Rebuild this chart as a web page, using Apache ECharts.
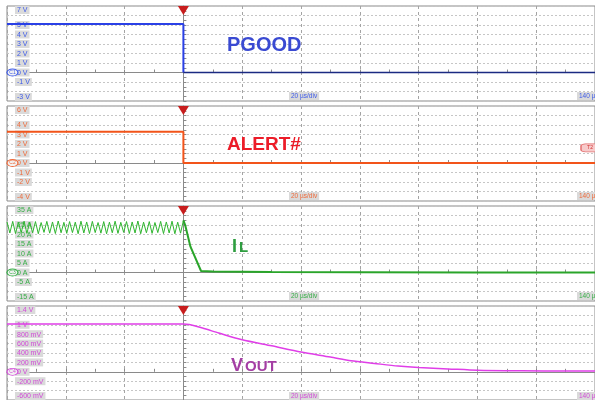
<!DOCTYPE html>
<html>
<head>
<meta charset="utf-8">
<script src="https://cdn.jsdelivr.net/npm/echarts@6/dist/echarts.min.js"></script>
<style>html,body{margin:0;padding:0;background:#fff}#main{width:595px;height:400px}</style>
</head>
<body>
<div id="main"></div>
<script>
// time axis in µs, trigger at 0, 20 µs/div
var pgoodTime = [-60, 0, 0, 140];
var pgoodVal = [5.1, 5.1, 0, 0];
var alertTime = [-60, 0, 0, 140];
var alertVal = [3.3, 3.3, 0, 0];
// inductor current (A): ripple up to trigger, then decay
var ilTime = [-60, -59.03, -58.06, -57.10, -56.13, -55.16, -54.19, -53.23, -52.26, -51.29,
  -50.32, -49.35, -48.39, -47.42, -46.45, -45.48, -44.52, -43.55, -42.58, -41.61,
  -40.65, -39.68, -38.71, -37.74, -36.77, -35.81, -34.84, -33.87, -32.90, -31.94,
  -30.97, -30.00, -29.03, -28.06, -27.10, -26.13, -25.16, -24.19, -23.23, -22.26,
  -21.29, -20.32, -19.35, -18.39, -17.42, -16.45, -15.48, -14.52, -13.55, -12.58,
  -11.61, -10.65, -9.68, -8.71, -7.74, -6.77, -5.81, -4.84, -3.87, -2.90,
  -1.94, -0.97, 0, 0.6, 2.4, 6, 10, 30, 60, 100, 140];
var ilVal = [26.6, 20.8, 26.9, 20.5, 26.4, 21.0, 27.0, 20.6, 26.5, 20.9,
  26.8, 20.4, 26.3, 21.1, 26.9, 20.7, 26.6, 20.5, 27.1, 20.9,
  26.4, 20.6, 26.8, 21.0, 26.5, 20.4, 27.0, 20.8, 26.6, 20.5,
  26.9, 21.0, 26.3, 20.7, 26.8, 20.4, 26.5, 20.9, 27.0, 20.6,
  26.4, 21.1, 26.8, 20.5, 26.6, 20.8, 27.1, 20.4, 26.5, 20.9,
  26.8, 20.6, 26.3, 21.0, 26.9, 20.5, 26.6, 20.8, 27.0, 20.4,
  26.5, 20.7, 27.4, 25.0, 13.6, 0.8, 0.5, 0.3, 0.1, 0, 0];
// output voltage (mV)
var voutTime = [-60, 0, 2, 6.5, 12, 20, 30, 40, 50, 57, 65, 73, 80, 90, 100, 115, 130, 140];
var voutVal = [1015, 1015, 1005, 930, 825, 680, 552, 420, 315, 235, 178, 122, 90, 62, 32, 20, 16, 15];

// tick labels shown on each channel (values with a label)
var pgoodTicks = [7, 5, 4, 3, 2, 1, 0, -1, -3];
var alertTicks = [6, 4, 3, 2, 1, 0, -1, -2, -4];
var ilTicks = [35, 25, 20, 15, 10, 5, 0, -5, -15];
var voutTicks = [1400, 1000, 800, 600, 400, 200, 0, -200, -600];

function zip(t, v) {
  var out = [];
  for (var i = 0; i < t.length; i++) out.push([t[i], v[i]]);
  return out;
}

var myChart = echarts.init(document.getElementById('main'));
var font = 'Liberation Sans, Arial, sans-serif';
var tops = [6, 106, 206, 306];

var chans = [
  {min: -3, max: 7, step: 1, ticks: pgoodTicks, color: '#3d5ae8', tag: 'C1',
   fmt: function (v) { return v + ' V'; }},
  {min: -4, max: 6, step: 1, ticks: alertTicks, color: '#ee6a3a', tag: 'C2',
   fmt: function (v) { return v + ' V'; }},
  {min: -15, max: 35, step: 5, ticks: ilTicks, color: '#35ad45', tag: 'C3',
   fmt: function (v) { return v + ' A'; }},
  {min: -600, max: 1400, step: 200, ticks: voutTicks, color: '#d24ad8', tag: 'C4',
   fmt: function (v) { return (v >= 1000 ? v / 1000 + ' V' : (v === 0 ? '0 V' : v + ' mV')); }}
];

var option = {
  backgroundColor: '#fff',
  animation: false,
  grid: [], xAxis: [], yAxis: [], series: [], graphic: []
};

chans.forEach(function (c, i) {
  option.grid.push({left: 7, width: 590, top: tops[i], height: 95,
    show: true, borderColor: '#8a8a8a', borderWidth: 1, backgroundColor: '#fff'});
  option.xAxis.push({
    type: 'value', gridIndex: i, min: -60, max: 140, interval: 20,
    axisLabel: {show: false},
    axisLine: {onZero: true, onZeroAxisIndex: 2 * i, lineStyle: {color: '#8a8a8a'}},
    axisTick: {show: true, inside: true, length: 3, lineStyle: {color: '#8a8a8a'}},
    minorTick: {show: true, splitNumber: 2, length: 3, lineStyle: {color: '#8a8a8a'}},
    splitLine: {show: true, lineStyle: {color: '#a4a4a4', type: [3, 3]}}
  });
  // label axis
  option.yAxis.push({
    type: 'value', gridIndex: i, min: c.min, max: c.max, interval: c.step, position: 'left',
    axisLine: {show: false, onZero: false},
    axisTick: {show: false},
    splitLine: {show: true, lineStyle: {color: '#c6c6c6', type: [2, 2]}},
    axisLabel: {
      inside: true, margin: 8,
      verticalAlignMaxLabel: 'top', verticalAlignMinLabel: 'bottom',
      formatter: function (v) {
        v = Math.round(v * 1000) / 1000;
        return c.ticks.indexOf(v) >= 0 ? '{b|' + c.fmt(v) + '}' : '';
      },
      rich: {b: {backgroundColor: '#dadada', color: c.color, fontSize: 7, fontFamily: font,
        padding: [1, 2, 0, 2], lineHeight: 8}}
    }
  });
  // trigger-position axis line with ticks
  option.yAxis.push({
    type: 'value', gridIndex: i, min: c.min, max: c.max, interval: c.step, position: 'left',
    axisLine: {show: true, onZero: true, onZeroAxisIndex: i, lineStyle: {color: '#8a8a8a'}},
    axisTick: {show: true, inside: true, length: 3, lineStyle: {color: '#8a8a8a'}},
    minorTick: {show: true, splitNumber: 2, length: 3, lineStyle: {color: '#8a8a8a'}},
    axisLabel: {show: false},
    splitLine: {show: false}
  });

  // bottom info boxes
  option.graphic.push({type: 'text', left: 289, top: tops[i] + 86, z: 100,
    style: {text: '20 µs/div', fill: c.color, font: '6.5px ' + font,
      backgroundColor: '#dadada', padding: [1, 2, 0, 2]}});
  option.graphic.push({type: 'text', left: 577, top: tops[i] + 86, z: 100,
    style: {text: '140 µs', fill: c.color, font: '6.5px ' + font,
      backgroundColor: '#dadada', padding: [1, 2, 0, 2]}});
});

function marks(i, c, extra) {
  var d = [
    {coord: [0, c.max], symbol: 'triangle', symbolRotate: 180, symbolSize: [11, 9],
     symbolOffset: [0, 4.5], itemStyle: {color: '#c81e1e'}, label: {show: false}},
    {coord: [-60, 0], symbol: 'circle', symbolSize: [11, 7], symbolOffset: [5.5, 0],
     itemStyle: {color: '#f2f2f2', borderColor: c.color, borderWidth: 1},
     label: {show: true, position: 'inside', formatter: c.tag, fontSize: 5, color: c.color, fontFamily: font}}
  ];
  return {silent: true, data: d.concat(extra || [])};
}

var pg = zip(pgoodTime, pgoodVal);
var al = zip(alertTime, alertVal);
var il = zip(ilTime, ilVal);
var vo = zip(voutTime, voutVal);
var ilSplit = ilTime.indexOf(0);

option.series.push(
  {type: 'line', xAxisIndex: 0, yAxisIndex: 0, symbol: 'none', data: pg.slice(0, 3),
   lineStyle: {color: '#2a40e6', width: 2}},
  {type: 'line', xAxisIndex: 0, yAxisIndex: 0, symbol: 'none', data: pg.slice(2),
   lineStyle: {color: '#1b2a82', width: 1.5}, markPoint: marks(0, chans[0])},
  {type: 'line', xAxisIndex: 1, yAxisIndex: 2, symbol: 'none', data: al,
   lineStyle: {color: '#f2541a', width: 2},
   markPoint: marks(1, chans[1], [{coord: [140, 1.6], symbol: 'roundRect', symbolSize: [18, 8],
     symbolOffset: [-5, 0], itemStyle: {color: '#f7caca', borderColor: '#e27070', borderWidth: 1},
     label: {show: true, position: 'inside', formatter: 'T2', fontSize: 5, color: '#d03030', fontFamily: font}}])},
  {type: 'line', xAxisIndex: 2, yAxisIndex: 4, symbol: 'none', data: il.slice(0, ilSplit + 1),
   lineStyle: {color: '#2fb52f', width: 1}},
  {type: 'line', xAxisIndex: 2, yAxisIndex: 4, symbol: 'none', data: il.slice(ilSplit),
   lineStyle: {color: '#2aa52a', width: 2}, markPoint: marks(2, chans[2])},
  {type: 'line', xAxisIndex: 3, yAxisIndex: 6, symbol: 'none', smooth: 0.25, data: vo,
   lineStyle: {color: '#e03ee8', width: 1.5}, markPoint: marks(3, chans[3])}
);

// channel names
option.graphic.push(
  {type: 'text', left: 227, top: 35, z: 100,
   style: {text: 'PGOOD', fill: '#3a4ad2', font: 'bold 20px ' + font}},
  {type: 'text', left: 227, top: 135, z: 100,
   style: {text: 'ALERT#', fill: '#ec1c28', font: 'bold 19px ' + font}},
  {type: 'text', left: 232, top: 238, z: 100,
   style: {text: 'I', fill: '#2e9e40', font: 'bold 18px ' + font}},
  {type: 'text', left: 239, top: 240, z: 100,
   style: {text: 'L', fill: '#2e9e40', font: 'bold 15px ' + font}},
  {type: 'text', left: 231, top: 357, z: 100,
   style: {text: 'V', fill: '#a43ea4', font: 'bold 18px ' + font}},
  {type: 'text', left: 245, top: 359, z: 100,
   style: {text: 'OUT', fill: '#a43ea4', font: 'bold 15px ' + font}}
);

myChart.setOption(option);
</script>
</body>
</html>
